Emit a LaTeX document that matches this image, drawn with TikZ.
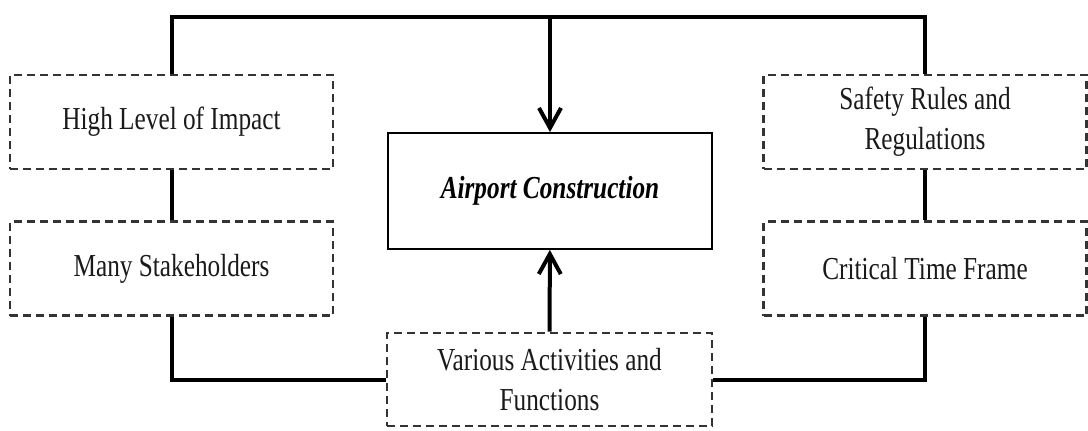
\documentclass[tikz,border=0pt]{standalone}
\usepackage{fontspec}
\setmainfont{Liberation Serif}[FakeStretch=0.79]
\usetikzlibrary{arrows.meta}
\definecolor{DASHGRAY}{HTML}{333333}
\definecolor{TEXTGRAY}{HTML}{1A1A1A}

\begin{document}
\begin{tikzpicture}[x=0.5pt, y=0.5pt,
        factor/.style={draw=DASHGRAY, line width=1.4pt, dash pattern=on 4pt off 2.5pt,
                    minimum width=161.5pt, minimum height=47pt, align=center,
                    font=\fontsize{16}{20}\selectfont, text=TEXTGRAY, inner sep=0pt},
        core/.style={draw=black, line width=0.9pt, minimum width=162pt, minimum height=58pt,
                    font=\fontsize{16}{20}\selectfont\bfseries\itshape, inner sep=0pt},
        link/.style={line width=2pt, black},
        arr/.style={link, -{Straight Barb[length=10pt, width=11pt]}}
      ]
        \useasboundingbox (0,0) rectangle (1088,430);
        \node[factor] (impact)   at (171.5,308)   {High Level of Impact};
        \node[factor] (stake)    at (171.5,161.5) {Many Stakeholders};
        \node[core]   (airport)  at (550,239)     {Airport Construction};
        \node[factor] (safety)   at (925,308)     {Safety Rules and\\Regulations};
        \node[factor] (critical) at (925,161.5)   {Critical Time Frame};
        \node[factor, minimum width=162.5pt, minimum height=46.5pt]
                      (various)  at (549.5,50.5)  {Various Activities and\\Functions};
        \coordinate (bus) at (550,413);
        \draw[link] (impact.north) |- (bus) -| (safety.north);
        \draw[arr]  (bus) -- (airport.north);
        \draw[link] (impact) -- (stake);
        \draw[link] (safety) -- (critical);
        \draw[link] (stake.south) |- (various.west);
        \draw[link] (critical.south) |- (various.east);
        \draw[arr]  (various) -- (airport);
      \end{tikzpicture}
\end{document}
